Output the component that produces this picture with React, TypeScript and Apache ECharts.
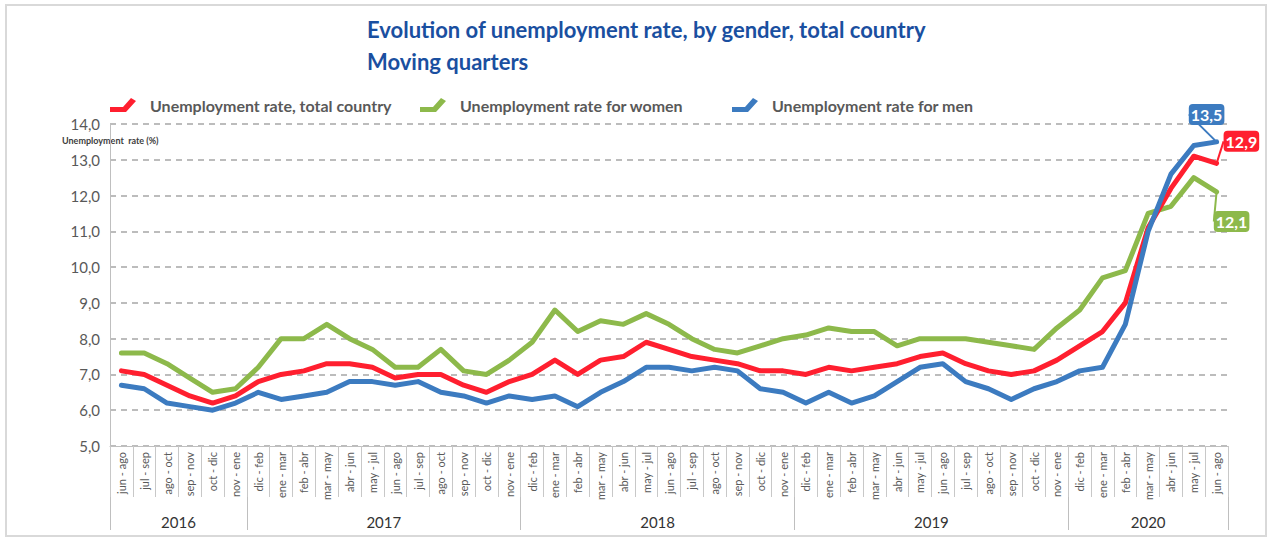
import React, { useEffect, useRef } from 'react';
import * as echarts from 'echarts';

const categories = [
  'jun - ago', 'jul - sep', 'ago - oct', 'sep - nov', 'oct - dic', 'nov - ene',
  'dic - feb', 'ene - mar', 'feb - abr', 'mar - may', 'abr - jun', 'may - jul', 'jun - ago', 'jul - sep', 'ago - oct', 'sep - nov', 'oct - dic', 'nov - ene',
  'dic - feb', 'ene - mar', 'feb - abr', 'mar - may', 'abr - jun', 'may - jul', 'jun - ago', 'jul - sep', 'ago - oct', 'sep - nov', 'oct - dic', 'nov - ene',
  'dic - feb', 'ene - mar', 'feb - abr', 'mar - may', 'abr - jun', 'may - jul', 'jun - ago', 'jul - sep', 'ago - oct', 'sep - nov', 'oct - dic', 'nov - ene',
  'dic - feb', 'ene - mar', 'feb - abr', 'mar - may', 'abr - jun', 'may - jul', 'jun - ago',
];

const years = ['2016', '2017', '2018', '2019', '2020'];
const yearBounds = [0, 6, 18, 30, 42, 49];

const total = [
  7.1, 7.0, 6.7, 6.4, 6.2, 6.4,
  6.8, 7.0, 7.1, 7.3, 7.3, 7.2, 6.9, 7.0, 7.0, 6.7, 6.5, 6.8,
  7.0, 7.4, 7.0, 7.4, 7.5, 7.9, 7.7, 7.5, 7.4, 7.3, 7.1, 7.1,
  7.0, 7.2, 7.1, 7.2, 7.3, 7.5, 7.6, 7.3, 7.1, 7.0, 7.1, 7.4,
  7.8, 8.2, 9.0, 11.1, 12.2, 13.1, 12.9,
];
const women = [
  7.6, 7.6, 7.3, 6.9, 6.5, 6.6,
  7.2, 8.0, 8.0, 8.4, 8.0, 7.7, 7.2, 7.2, 7.7, 7.1, 7.0, 7.4,
  7.9, 8.8, 8.2, 8.5, 8.4, 8.7, 8.4, 8.0, 7.7, 7.6, 7.8, 8.0,
  8.1, 8.3, 8.2, 8.2, 7.8, 8.0, 8.0, 8.0, 7.9, 7.8, 7.7, 8.3,
  8.8, 9.7, 9.9, 11.5, 11.7, 12.5, 12.1,
];
const men = [
  6.7, 6.6, 6.2, 6.1, 6.0, 6.2,
  6.5, 6.3, 6.4, 6.5, 6.8, 6.8, 6.7, 6.8, 6.5, 6.4, 6.2, 6.4,
  6.3, 6.4, 6.1, 6.5, 6.8, 7.2, 7.2, 7.1, 7.2, 7.1, 6.6, 6.5,
  6.2, 6.5, 6.2, 6.4, 6.8, 7.2, 7.3, 6.8, 6.6, 6.3, 6.6, 6.8,
  7.1, 7.2, 8.4, 11.0, 12.6, 13.4, 13.5,
];

const seriesNames = [
  'Unemployment rate, total country',
  'Unemployment rate for women',
  'Unemployment rate for men',
];
const colors = ['#FF1F2F', '#8DB94B', '#3C7BC0'];
const titleText = 'Evolution of unemployment rate, by gender, total country\nMoving quarters';
const yAxisTitle = 'Unemployment  rate (%)';

const FONT = 'Lato, "Open Sans", sans-serif';
const legendIcon = 'path://M0,9 L13,9 L21,0 L26,3 L16,14 L0,14 Z';
const legendLefts = [105, 415, 727];

const fmt = (v: number) => v.toFixed(1).replace('.', ',');

function buildSeries(name: string, vals: number[], color: string, position: string, dx: number, dy: number, z: number) {
  const last = vals.length - 1;
  return {
    name,
    type: 'line',
    xAxisIndex: 0,
    yAxisIndex: 0,
    symbol: 'circle',
    symbolSize: 0,
    showSymbol: true,
    z,
    lineStyle: { color, width: 5, cap: 'round', join: 'round' },
    itemStyle: { color },
    label: { show: false },
    data: vals.map((v, i) =>
      i === last
        ? {
            value: v,
            label: {
              show: true,
              position,
              formatter: () => fmt(v),
              color: '#fff',
              fontWeight: 'bold',
              fontSize: 16,
              fontFamily: FONT,
              backgroundColor: color,
              padding: [3, 2, 2, 2],
              borderRadius: 4,
            },
          }
        : v
    ),
    labelLayout: { dx, dy },
    labelLine: { show: true, lineStyle: { color, width: 2 } },
  };
}

export default function App() {
  const ref = useRef<HTMLDivElement>(null);
  useEffect(() => {
    if (!ref.current) return;
    const chart = echarts.init(ref.current, null, { renderer: 'svg' });
    const option = {
      animation: false,
      backgroundColor: '#fff',
      title: {
        text: titleText,
        left: 362,
        top: 8,
        textStyle: {
          fontFamily: FONT,
          fontSize: 22,
          fontWeight: 'bold',
          color: '#1A4FA0',
          lineHeight: 32,
        },
      },
      legend: seriesNames.map((n, i) => ({
        left: legendLefts[i],
        top: 92,
        itemWidth: 26,
        itemHeight: 14,
        icon: legendIcon,
        data: [{ name: n, itemStyle: { color: colors[i] } }],
        textStyle: {
          fontFamily: FONT,
          fontSize: 16,
          fontWeight: 'bold',
          color: '#595959',
          padding: [0, 0, 0, 9],
        },
      })),
      grid: { left: 110, right: 45, top: 124, bottom: 95, containLabel: false },
      xAxis: [
        {
          type: 'category',
          data: categories,
          boundaryGap: true,
          position: 'bottom',
          axisLine: { show: true, lineStyle: { color: '#BFBFBF', width: 1 } },
          axisTick: { show: true, interval: 0, length: 51, lineStyle: { color: '#C8C8C8' } },
          axisLabel: {
            interval: 0,
            rotate: 90,
            margin: 6,
            fontSize: 11,
            fontFamily: FONT,
            color: '#595959',
          },
          splitLine: { show: false },
          z: 5,
        },
        {
          type: 'value',
          min: 0,
          max: 49,
          position: 'bottom',
          offset: 0,
          axisLine: { show: false },
          axisTick: {
            show: true,
            length: 84,
            customValues: yearBounds,
            lineStyle: { color: '#BFBFBF' },
          },
          axisLabel: {
            show: true,
            customValues: years.map((_, i) => (yearBounds[i] + yearBounds[i + 1]) / 2),
            formatter: (v: number) => {
              for (let i = 0; i < years.length; i++) {
                if (v > yearBounds[i] && v < yearBounds[i + 1]) return years[i];
              }
              return '';
            },
            margin: 68,
            fontSize: 15,
            fontFamily: FONT,
            color: '#333333',
          },
          splitLine: { show: false },
        },
      ],
      yAxis: {
        type: 'value',
        min: 5,
        max: 14,
        interval: 1,
        axisLine: { show: true, lineStyle: { color: '#BFBFBF' } },
        axisTick: { show: false },
        axisLabel: {
          formatter: (v: number) => fmt(v),
          fontSize: 15,
          fontFamily: FONT,
          color: '#595959',
          margin: 10,
        },
        splitLine: {
          show: true,
          lineStyle: { color: '#A6A6A6', type: [6, 5], width: 1.5 },
        },
      },
      graphic: [
        {
          type: 'rect',
          shape: { x: 6, y: 5, width: 1260, height: 531 },
          style: { fill: 'none', stroke: '#D9D9D9', lineWidth: 2 },
          silent: true,
          z: -1,
        },
        {
          type: 'text',
          left: 62,
          top: 136,
          style: {
            text: yAxisTitle,
            fontSize: 9,
            fontFamily: FONT,
            fontWeight: 'bold',
            fill: '#404040',
          },
        },
      ],
      series: [
        buildSeries(seriesNames[1], women, colors[1], 'bottom', 15, 14, 2),
        buildSeries(seriesNames[0], total, colors[0], 'right', 2, -22, 3),
        buildSeries(seriesNames[2], men, colors[2], 'top', -10, -12, 4),
      ],
    };
    chart.setOption(option as any);
    return () => chart.dispose();
  }, []);
  return (
    <div
      ref={ref}
      style={{ position: 'fixed', left: 0, top: 0, width: 1273, height: 541 }}
    />
  );
}
